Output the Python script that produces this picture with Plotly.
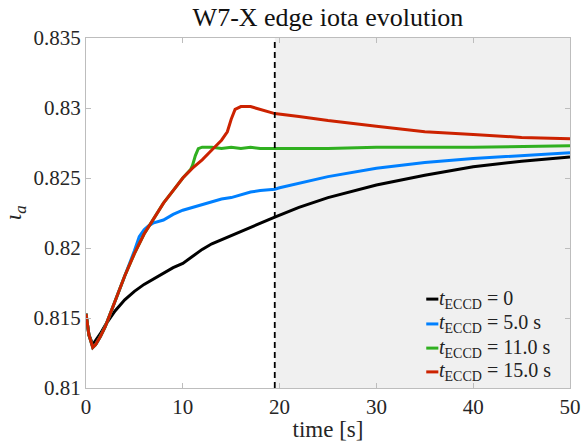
import plotly.graph_objects as go

# time [s] and edge iota for each ECCD start time
t_black = [0, 0.3, 0.7, 1.0, 1.5, 2, 2.5, 3, 4, 5, 6, 7, 8, 9, 10, 11, 12, 13, 14, 15, 16, 17, 18, 19.5,
           22, 25, 30, 35, 40, 45, 50]
iota_black = [0.8153, 0.8138, 0.8131, 0.8134, 0.8139, 0.8145, 0.8150, 0.8155, 0.8163, 0.8169, 0.8174,
              0.8178, 0.8182, 0.8186, 0.8189, 0.8194, 0.8199, 0.8203, 0.8206, 0.8209, 0.8212, 0.8215,
              0.8218, 0.8222, 0.8229, 0.8236, 0.8245, 0.8252, 0.8258, 0.8262, 0.8265]

t_blue = [0, 0.3, 0.7, 1.0, 1.5, 2, 3, 4, 4.8, 5.0, 5.5, 6.0, 6.5, 7, 8, 9, 10, 11, 12, 13, 14, 15, 16,
          17, 18, 19.5, 20, 25, 30, 35, 40, 45, 50]
iota_blue = [0.8153, 0.8138, 0.8129, 0.8131, 0.8137, 0.8144, 0.8162, 0.8180, 0.8193, 0.8198, 0.8208,
             0.8213, 0.8216, 0.8218, 0.8220, 0.8224, 0.8227, 0.8229, 0.8231, 0.8233, 0.8235, 0.8236,
             0.8238, 0.8240, 0.8241, 0.8242, 0.8243, 0.8251, 0.8257, 0.8261, 0.8264, 0.8266, 0.8268]

t_green = [0, 0.3, 0.7, 1.0, 1.5, 2, 3, 4, 5, 6, 7, 8, 9, 10, 10.8, 11.0, 11.3, 11.6, 12, 13, 14, 15,
           16, 17, 18, 19.5, 25, 30, 40, 50]
iota_green = [0.8153, 0.8138, 0.8129, 0.8131, 0.8137, 0.8144, 0.8162, 0.8180, 0.8196, 0.8210, 0.8221,
              0.8232, 0.8241, 0.8250, 0.8256, 0.8259, 0.8266, 0.8271, 0.8272, 0.8272, 0.8271, 0.8272,
              0.8271, 0.8272, 0.8271, 0.8271, 0.8271, 0.8272, 0.8272, 0.8273]

t_red = [0, 0.3, 0.7, 1.0, 1.5, 2, 3, 4, 5, 6, 7, 8, 9, 10, 11, 12, 13, 14, 14.6, 15, 15.4, 16, 17, 18,
         19.5, 22, 25, 30, 35, 40, 45, 50]
iota_red = [0.8153, 0.8138, 0.8129, 0.8131, 0.8137, 0.8144, 0.8162, 0.8180, 0.8196, 0.8210, 0.8221,
            0.8232, 0.8241, 0.8250, 0.8257, 0.8263, 0.8270, 0.8277, 0.8283, 0.8292, 0.8299, 0.8301,
            0.8301, 0.8299, 0.8296, 0.8294, 0.8291, 0.8287, 0.8283, 0.8281, 0.8279, 0.8278]

legend_labels = ["<i>t</i><sub>ECCD</sub> = 0",
                 "<i>t</i><sub>ECCD</sub> = 5.0 s",
                 "<i>t</i><sub>ECCD</sub> = 11.0 s",
                 "<i>t</i><sub>ECCD</sub> = 15.0 s"]
colors = ["#000000", "#0080FF", "#30B020", "#CC2200"]

t_switch = 19.5
x_ticks = [0, 10, 20, 30, 40, 50]
y_ticks = [0.81, 0.815, 0.82, 0.825, 0.83, 0.835]
y_ticktext = ["0.81", "0.815", "0.82", "0.825", "0.83", "0.835"]

serif = "Times New Roman"

fig = go.Figure()

series = [(t_black, iota_black), (t_blue, iota_blue), (t_green, iota_green), (t_red, iota_red)]
for (t, iota), col, name in zip(series, colors, legend_labels):
    fig.add_trace(go.Scatter(x=t, y=iota, mode="lines", name=name,
                             line=dict(color=col, width=3), showlegend=False))

# shaded region after the switch and the dashed marker
fig.add_shape(type="rect", xref="x", yref="paper", x0=t_switch, x1=50, y0=0, y1=1,
              fillcolor="#f0f0f0", line=dict(width=0), layer="below")
fig.add_shape(type="line", xref="x", yref="paper", x0=t_switch, x1=t_switch, y0=0, y1=1,
              line=dict(color="black", width=1.8, dash="6px,4px"))

# legend drawn by hand (short line samples like MATLAB)
leg_y = [0.254, 0.183, 0.114, 0.046]
for lbl, col, yy in zip(legend_labels, colors, leg_y):
    fig.add_shape(type="line", xref="paper", yref="paper", x0=0.703, x1=0.728, y0=yy, y1=yy,
                  line=dict(color=col, width=3))
    fig.add_annotation(xref="paper", yref="paper", x=0.725, y=yy, text=lbl, showarrow=False,
                       xanchor="left", yanchor="middle", font=dict(family=serif, size=20, color="#222"))

axis_style = dict(showline=True, linecolor="#bdbdbd", linewidth=1, mirror="allticks",
                  ticks="inside", ticklen=5, tickcolor="#bdbdbd", showgrid=False, zeroline=False,
                  automargin=False, tickfont=dict(family=serif, size=21, color="#262626"))

fig.update_xaxes(range=[0, 50], tickvals=x_ticks,
                 title=dict(text="time [s]", font=dict(family=serif, size=23, color="#262626"), standoff=2),
                 **axis_style)
fig.update_yaxes(range=[0.81, 0.835], tickvals=y_ticks, ticktext=y_ticktext,
                 title=dict(text="<i>ι</i><sub><i>a</i></sub>", font=dict(family=serif, size=24, color="#262626"),
                            standoff=8),
                 **axis_style)

fig.update_layout(
    width=581, height=448,
    margin=dict(l=86, r=11, t=38, b=60),
    font=dict(family=serif, color="#262626"),
    plot_bgcolor="white", paper_bgcolor="white",
    title=dict(text="W7-X edge iota evolution", x=0.5, xref="paper", y=0.962, yanchor="middle",
               font=dict(family=serif, size=26, color="#111")),
    showlegend=False,
)

# drop the browser's default 8px body margin so the figure sits at the page corner
fig.write_html("out.html", config={"displayModeBar": False},
               post_script="document.body.style.margin='0';")
